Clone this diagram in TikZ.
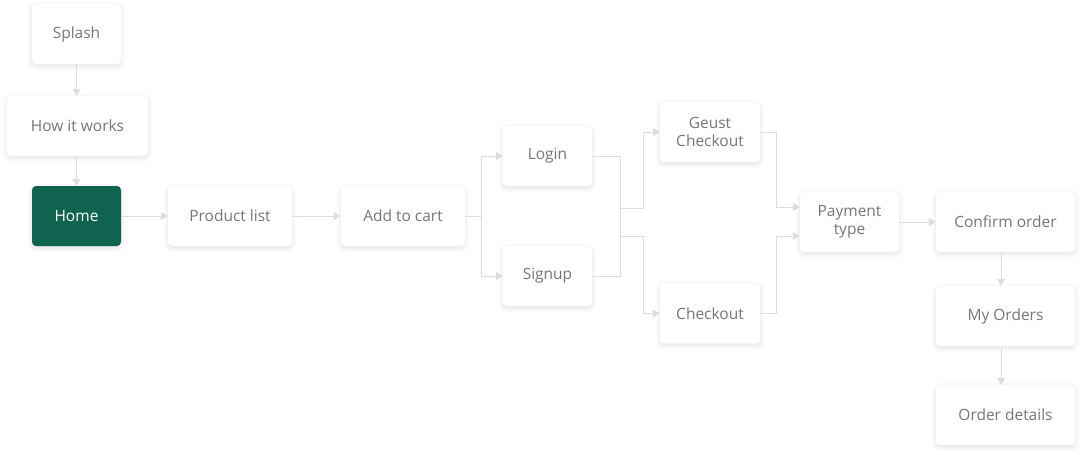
\documentclass[tikz,border=0pt]{standalone}
\usepackage{fontspec}
\setmainfont{Open Sans}
\usetikzlibrary{arrows.meta,shadows.blur}
\definecolor{txt}{HTML}{767676}
\definecolor{ln}{HTML}{DCDCDC}
\definecolor{homefill}{HTML}{10634F}
\tikzset{
  box/.style={draw=none, fill=white, rounded corners=4pt, text=txt, align=center,
    font=\fontsize{15.5}{18}\selectfont, inner sep=0pt,
    blur shadow={shadow xshift=0pt, shadow yshift=-2pt, shadow blur radius=5pt, shadow opacity=12}},
  homebox/.style={box, fill=homefill, text=white},
  conn/.style={draw=ln, line width=0.9pt},
  arr/.style={conn, -{Triangle[length=7pt,width=8pt]}},
}
\begin{document}
\begin{tikzpicture}[x=1pt,y=-1pt]
\useasboundingbox (0,0) rectangle (1082,455);
\node[box, minimum width=89, minimum height=60] (splash) at (76.5,34) {Splash};
\node[box, minimum width=141, minimum height=60] (how) at (77.5,126) {How it works};
\node[homebox, minimum width=89, minimum height=60] (home) at (76.5,216) {Home};
\node[box, minimum width=124, minimum height=60] (plist) at (230,216) {Product list};
\node[box, minimum width=124, minimum height=60] (cart) at (403,216) {Add to cart};
\node[box, minimum width=89, minimum height=60] (login) at (547.5,156) {Login};
\node[box, minimum width=89, minimum height=60] (signup) at (547.5,276) {Signup};
\node[box, minimum width=100, minimum height=60] (guest) at (710,132) {Geust\\Checkout};
\node[box, minimum width=100, minimum height=60] (checkout) at (710,313.5) {Checkout};
\node[box, minimum width=99, minimum height=60] (pay) at (849.5,222) {Payment\\type};
\node[box, minimum width=139, minimum height=60] (confirm) at (1005.5,222) {Confirm order};
\node[box, minimum width=139, minimum height=60] (orders) at (1005.5,316) {My Orders};
\node[box, minimum width=139, minimum height=60] (details) at (1005.5,415) {Order details};

\coordinate (jt) at (620,208);
\coordinate (jb) at (620,236);

\draw[arr] (splash.south) -- (splash.south |- how.north);
\draw[arr] (home.north |- how.south) -- (home.north);
\draw[arr] (home.east) -- (plist.west);
\draw[arr] (plist.east) -- (cart.west);
\draw[arr] (cart.east) -- ++(16,0) |- (login.west);
\draw[arr] (cart.east) -- ++(16,0) |- (signup.west);
\draw[conn] (login.east) -| (jt);
\draw[conn] (signup.east) -| (jb);
\draw[conn] (jt) -- (jb);
\draw[arr] (jt) -- ++(23,0) |- (guest.west);
\draw[arr] (jb) -- ++(23,0) |- (checkout.west);
\draw[arr] (guest.east) -- ++(16,0) |- ([yshift=15pt]pay.west);
\draw[arr] (checkout.east) -- ++(16,0) |- ([yshift=-14pt]pay.west);
\draw[arr] (pay.east) -- (confirm.west);
\draw[arr] ([xshift=-4.5pt]confirm.south) -- ([xshift=-4.5pt]orders.north);
\draw[arr] ([xshift=-4.5pt]orders.south) -- ([xshift=-4.5pt]details.north);
\end{tikzpicture}
\end{document}
